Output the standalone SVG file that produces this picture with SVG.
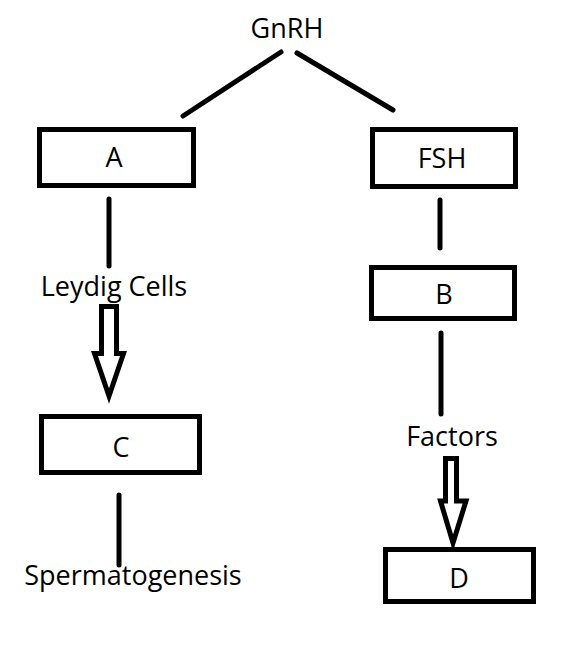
<svg xmlns="http://www.w3.org/2000/svg" width="566" height="647" viewBox="0 0 566 647">
<style>
.box{fill:#fff;stroke:#000;stroke-width:5}
.ln{stroke:#000;stroke-width:5;stroke-linecap:round;fill:none}
.ar{fill:#fff;stroke:#000;stroke-width:5;stroke-linejoin:miter}
text{font-family:"Open Sans","Liberation Sans",sans-serif;font-size:27px;fill:#000;text-anchor:middle}
</style>
<rect width="566" height="647" fill="#fff"/>
<g id="connectors">
<line class="ln" x1="183" y1="116" x2="281" y2="52"/>
<line class="ln" x1="297" y1="53" x2="393" y2="110"/>
<line class="ln" x1="109" y1="199" x2="109" y2="266"/>
<line class="ln" x1="440" y1="200" x2="440" y2="248"/>
<line class="ln" x1="441" y1="333" x2="441" y2="414"/>
<line class="ln" x1="119" y1="495" x2="119" y2="565"/>
<path class="ar" d="M101.5,306.5 H116.5 V353.5 H123.5 L109,396 L94.5,353.5 H101.5 Z"/>
<path class="ar" d="M445.5,458.5 H456.5 V501 H466 L453,543 L440.5,501 H445.5 Z"/>
</g>
<g id="GnRH"><text x="287" y="38">GnRH</text></g>
<g id="A"><rect class="box" x="39.5" y="129.5" width="154" height="56"/><text x="114" y="167">A</text></g>
<g id="FSH"><rect class="box" x="372.5" y="129.5" width="143" height="57"/><text x="442" y="168">FSH</text></g>
<g id="B"><rect class="box" x="371.5" y="267.5" width="143" height="51"/><text x="444" y="304">B</text></g>
<g id="Leydig"><text x="114" y="296">Leydig Cells</text></g>
<g id="C"><rect class="box" x="41.5" y="416.5" width="158" height="56"/><text x="121" y="457">C</text></g>
<g id="Factors"><text x="452" y="446">Factors</text></g>
<g id="D"><rect class="box" x="385.5" y="549.5" width="148" height="52"/><text x="459" y="588">D</text></g>
<g id="Sperm"><text x="133" y="585">Spermatogenesis</text></g>
</svg>
